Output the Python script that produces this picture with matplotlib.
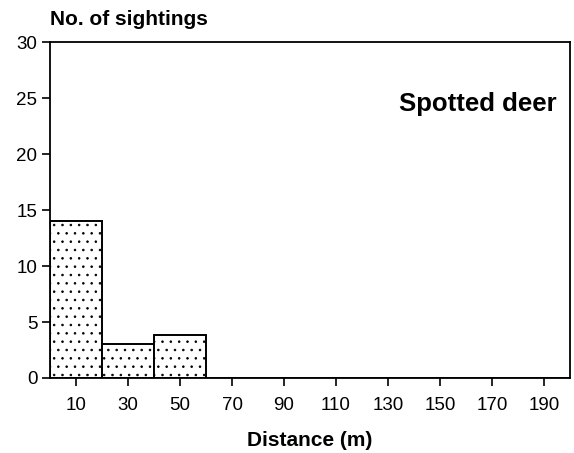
import matplotlib
matplotlib.use("Agg")
import matplotlib.pyplot as plt

plt.rcParams['font.family'] = ['Liberation Sans', 'DejaVu Sans']
plt.rcParams['hatch.linewidth'] = 0.6

bin_centers = [10, 30, 50, 70, 90, 110, 130, 150, 170, 190]
sightings = [14, 3, 3.8, 0, 0, 0, 0, 0, 0, 0]
y_ticks = [0, 5, 10, 15, 20, 25, 30]

fig = plt.figure(figsize=(5.74, 4.53), dpi=100)
ax = fig.add_axes([0.0871, 0.1656, 0.906, 0.7414])

ax.bar(bin_centers, sightings, width=20, color='white', edgecolor='black',
       linewidth=1.4, hatch='..', zorder=2)

ax.set_xlim(0, 200)
ax.set_ylim(0, 30)
ax.set_xticks(bin_centers)
ax.set_xticklabels([str(v) for v in bin_centers], fontsize=13.5)
ax.set_yticks(y_ticks)
ax.set_yticklabels([str(v) for v in y_ticks], fontsize=13.5)
ax.tick_params(axis='x', direction='out', length=6, width=1.2, pad=8)
ax.tick_params(axis='y', direction='out', length=6, width=1.2, pad=3)
for s in ax.spines.values():
    s.set_linewidth(1.3)

ax.set_xlabel('Distance (m)', fontsize=15, fontweight='bold', labelpad=12)
fig.text(0.087, 0.958, 'No. of sightings', fontsize=15, fontweight='bold',
         ha='left', va='center')
ax.text(0.975, 0.815, 'Spotted deer', transform=ax.transAxes, fontsize=18.5,
        fontweight='bold', ha='right', va='center')

fig.savefig('out.png', dpi=100)
